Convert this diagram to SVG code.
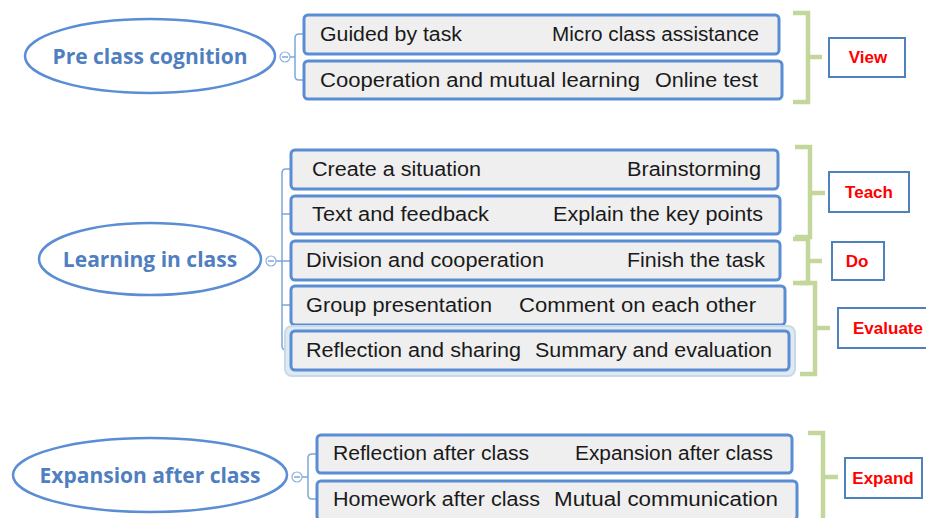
<svg xmlns="http://www.w3.org/2000/svg" width="926" height="518" viewBox="0 0 926 518">
<style>
.ell{fill:#fff;stroke:#5b8dd4;stroke-width:2.5}
.et{font-family:"Open Sans","Liberation Sans",sans-serif;font-weight:bold;font-size:21px;fill:#4f7fc0;text-anchor:middle}
.box{fill:#efefef;stroke:#5b8dd4;stroke-width:3}
.bt{font-family:"Liberation Sans",sans-serif;font-size:20px;fill:#1a1a1a}
.r{text-anchor:end}
.con{fill:none;stroke:#7ea7dc;stroke-width:1.5}
.tog{fill:#fff;stroke:#8fb0dc;stroke-width:1.2}
.br{fill:none;stroke:#c3d69b;stroke-width:4.5}
.lb{fill:#fff;stroke:#4f81bd;stroke-width:2}
.lt{font-family:"Liberation Sans",sans-serif;font-weight:bold;font-size:17px;fill:#ff0000;text-anchor:middle}
</style>
<g id="connectors">
<path class="con" d="M290 57H295M304 34H299Q295 34 295 38V76Q295 80 299 80H304"/>
<path class="con" d="M276 261H291M291 169H286Q282 169 282 173V346Q282 350 286 350H291M282 214H291M282 305H291"/>
<path class="con" d="M302 477H308M317 454H312Q308 454 308 458V495Q308 499 312 499H317"/>
<g id="toggles">
<circle class="tog" cx="285" cy="57" r="5"/><path class="con" d="M282 57H288"/>
<circle class="tog" cx="271" cy="261" r="5"/><path class="con" d="M268 261H274"/>
<circle class="tog" cx="297" cy="477" r="5"/><path class="con" d="M294 477H300"/>
</g>
</g>
<g id="pre-class">
<ellipse class="ell" cx="150" cy="56" rx="125" ry="37"/>
<text class="et" x="150" y="64">Pre class cognition</text>
</g>
<g id="pre-1"><rect class="box" x="304" y="15" width="475" height="39" rx="4"/>
<text class="bt" x="320" y="41" textLength="142" lengthAdjust="spacingAndGlyphs">Guided by task</text><text class="bt r" x="759" y="41" textLength="207" lengthAdjust="spacingAndGlyphs">Micro class assistance</text></g>
<g id="pre-2"><rect class="box" x="304" y="61" width="478" height="38" rx="4"/>
<text class="bt" x="320" y="87" textLength="320" lengthAdjust="spacingAndGlyphs">Cooperation and mutual learning</text><text class="bt r" x="758" y="87" textLength="103" lengthAdjust="spacingAndGlyphs">Online test</text></g>
<g id="view"><path class="br" d="M793 13H808V102H793M808 57H822"/>
<rect class="lb" x="829" y="38" width="76" height="39"/><text class="lt" x="868" y="63">View</text></g>

<g id="in-class">
<ellipse class="ell" cx="150" cy="259" rx="111" ry="36"/>
<text class="et" x="150" y="267">Learning in class</text>
</g>
<g id="in-1"><rect class="box" x="291" y="150" width="487" height="39" rx="4"/>
<text class="bt" x="312" y="176" textLength="169" lengthAdjust="spacingAndGlyphs">Create a situation</text><text class="bt r" x="761" y="176" textLength="134" lengthAdjust="spacingAndGlyphs">Brainstorming</text></g>
<g id="in-2"><rect class="box" x="291" y="196" width="489" height="38" rx="4"/>
<text class="bt" x="312" y="221" textLength="177" lengthAdjust="spacingAndGlyphs">Text and feedback</text><text class="bt r" x="763" y="221" textLength="210" lengthAdjust="spacingAndGlyphs">Explain the key points</text></g>
<g id="in-3"><rect class="box" x="291" y="241" width="489" height="39" rx="4"/>
<text class="bt" x="306" y="267" textLength="238" lengthAdjust="spacingAndGlyphs">Division and cooperation</text><text class="bt r" x="765" y="267" textLength="138" lengthAdjust="spacingAndGlyphs">Finish the task</text></g>
<g id="in-4"><rect class="box" x="291" y="286" width="494" height="39" rx="4"/>
<text class="bt" x="306" y="312" textLength="186" lengthAdjust="spacingAndGlyphs">Group presentation</text><text class="bt r" x="756" y="312" textLength="237" lengthAdjust="spacingAndGlyphs">Comment on each other</text></g>
<g id="in-5"><rect x="285" y="326" width="510" height="50" rx="7" fill="#dfe9f1" stroke="#c8dae8" stroke-width="2"/>
<rect class="box" x="291" y="331" width="498" height="39" rx="4" fill="#d9e4eb"/>
<text class="bt" x="306" y="357" textLength="215" lengthAdjust="spacingAndGlyphs">Reflection and sharing</text><text class="bt r" x="772" y="357" textLength="237" lengthAdjust="spacingAndGlyphs">Summary and evaluation</text></g>
<g id="teach"><path class="br" d="M795 147H810V237H795M810 193H825"/>
<rect class="lb" x="829" y="172" width="80" height="40"/><text class="lt" x="869" y="198">Teach</text></g>
<g id="do"><path class="br" d="M793 239H808V283H793M808 261H822"/>
<rect class="lb" x="832" y="242" width="52" height="38"/><text class="lt" x="857" y="267">Do</text></g>
<g id="evaluate"><path class="br" d="M800 283H815V374H800M815 328H830"/>
<rect class="lb" x="838" y="308" width="92" height="40"/><text class="lt" x="888" y="334">Evaluate</text></g>

<g id="after-class">
<ellipse class="ell" cx="150" cy="475" rx="137" ry="37"/>
<text class="et" x="150" y="483">Expansion after class</text>
</g>
<g id="after-1"><rect class="box" x="317" y="435" width="475" height="38" rx="4"/>
<text class="bt" x="333" y="460" textLength="196" lengthAdjust="spacingAndGlyphs">Reflection after class</text><text class="bt r" x="773" y="460" textLength="198" lengthAdjust="spacingAndGlyphs">Expansion after class</text></g>
<g id="after-2"><rect class="box" x="317" y="481" width="480" height="39" rx="4"/>
<text class="bt" x="333" y="506" textLength="207" lengthAdjust="spacingAndGlyphs">Homework after class</text><text class="bt r" x="778" y="506" textLength="224" lengthAdjust="spacingAndGlyphs">Mutual communication</text></g>
<g id="expand"><path class="br" d="M808 433H823V520M823 477H838"/>
<rect class="lb" x="845" y="458" width="77" height="40"/><text class="lt" x="883" y="484">Expand</text></g>
</svg>
